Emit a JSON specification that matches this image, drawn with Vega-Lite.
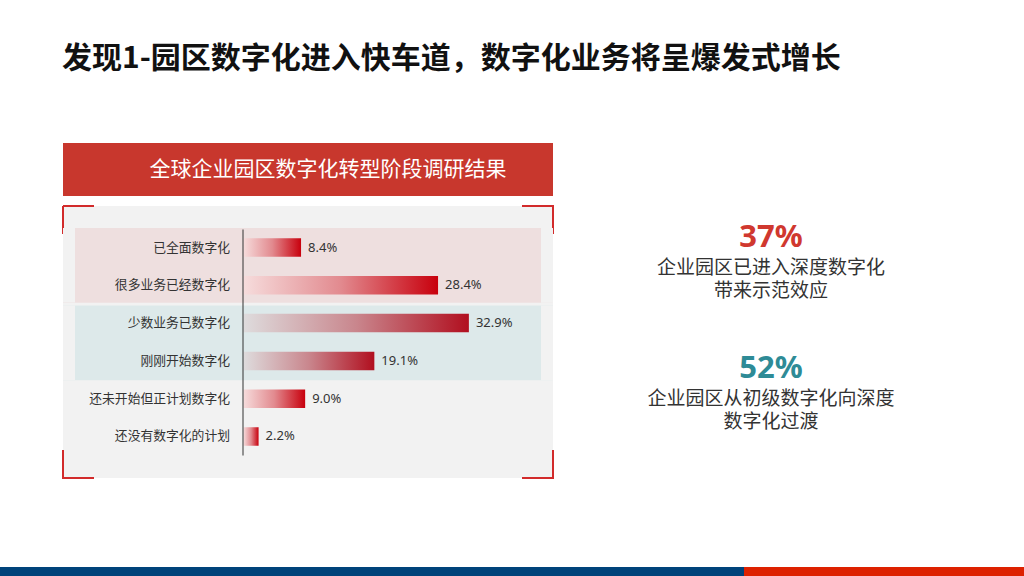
{
  "$schema": "https://vega.github.io/schema/vega-lite/v6.json",
  "background": "white",
  "padding": {"top": 44, "left": 0, "right": 0, "bottom": 0},
  "title": {
    "text": "发现1-园区数字化进入快车道，数字化业务将呈爆发式增长",
    "anchor": "start",
    "dx": 62,
    "fontSize": 30,
    "fontWeight": "bold",
    "font": "Noto Sans CJK SC",
    "color": "#111111",
    "offset": 69
  },
  "datasets": {
    "rows": [
      {"cat": "已全面数字化", "value": 0.084, "grp": "a"},
      {"cat": "很多业务已经数字化", "value": 0.284, "grp": "a"},
      {"cat": "少数业务已数字化", "value": 0.329, "grp": "b"},
      {"cat": "刚刚开始数字化", "value": 0.191, "grp": "b"},
      {"cat": "还未开始但正计划数字化", "value": 0.09, "grp": "c"},
      {"cat": "还没有数字化的计划", "value": 0.022, "grp": "c"}
    ],
    "bands": [{"grp": "a"}, {"grp": "b"}],
    "notes": [
      {"block": "a", "pct": "37%", "desc": "企业园区已进入深度数字化\n带来示范效应"},
      {"block": "b", "pct": "52%", "desc": "企业园区从初级数字化向深度\n数字化过渡"}
    ],
    "banner": [{"t": "全球企业园区数字化转型阶段调研结果"}]
  },
  "config": {"view": {"stroke": null}, "font": "Noto Sans CJK SC"},
  "spacing": 88,
  "vconcat": [
    {
      "spacing": 0,
      "hconcat": [
        {"width": 62, "height": 1, "data": {"values": []}, "mark": "rect"},
        {
          "spacing": 9,
          "vconcat": [
            {
              "width": 490,
              "height": 53,
              "view": {"fill": "#c8372d", "stroke": null},
              "data": {"name": "banner"},
              "mark": {"type": "text", "color": "#ffffff", "fontSize": 21, "dx": 20, "font": "Noto Sans CJK SC", "baseline": "middle"},
              "encoding": {"text": {"field": "t", "type": "nominal"}}
            },
            {
              "width": 490,
              "height": 272,
              "view": {"fill": "#f2f2f2", "stroke": "#d22b2b", "strokeWidth": 2, "strokeDash": [31, 428, 59, 216, 59, 428, 59, 216, 28, 0]},
              "resolve": {"scale": {"y": "independent"}, "axis": {"y": "independent"}},
              "layer": [
                {
                  "data": {"name": "bands"},
                  "mark": {"type": "rect", "clip": true, "stroke": "#f2f2f2", "strokeWidth": 24, "strokeDash": [0, 490, 75, 490, 75, 0]},
                  "encoding": {
                    "y": {"field": "grp", "type": "nominal", "scale": {"domain": ["a", "b", "c"], "paddingInner": 0.035, "paddingOuter": 0.2746, "align": 0.52}, "axis": null},
                    "fill": {"field": "grp", "type": "nominal", "scale": {"domain": ["a", "b"], "range": ["#eedfdf", "#dde9ea"]}, "legend": null}
                  }
                },
                {
                  "data": {"name": "rows"},
                  "encoding": {
                    "y": {
                      "field": "cat", "type": "nominal", "sort": null,
                      "scale": {"domain": ["已全面数字化", "很多业务已经数字化", "少数业务已数字化", "刚刚开始数字化", "还未开始但正计划数字化", "还没有数字化的计划"], "paddingInner": 0, "paddingOuter": 0.598},
                      "axis": {"title": null, "orient": "left", "offset": -179.5, "zindex": 1, "ticks": false, "grid": false, "domainColor": "#333333", "domainWidth": 1, "domainDash": [0, 23, 226, 30], "labelPadding": 13, "labelFontSize": 12.8, "labelFont": "Noto Sans CJK SC", "labelColor": "#333333", "labelLimit": 300}
                    },
                    "x": {"field": "value", "type": "quantitative", "scale": {"domain": [-0.2635, 0.4518], "nice": false, "zero": false}, "axis": null}
                  },
                  "layer": [
                    {
                      "transform": [{"filter": {"field": "grp", "oneOf": ["a", "c"]}}],
                      "mark": {"type": "bar", "height": {"band": 0.49}, "fill": {"gradient": "linear", "x1": 0, "y1": 0, "x2": 1, "y2": 0, "stops": [{"offset": 0, "color": "#f6dcdc"}, {"offset": 0.5, "color": "#e28a8f"}, {"offset": 1, "color": "#c8000d"}]}}
                    },
                    {
                      "transform": [{"filter": {"field": "grp", "equal": "b"}}],
                      "mark": {"type": "bar", "height": {"band": 0.49}, "fill": {"gradient": "linear", "x1": 0, "y1": 0, "x2": 1, "y2": 0, "stops": [{"offset": 0, "color": "#dedcdd"}, {"offset": 0.5, "color": "#c9868d"}, {"offset": 1, "color": "#b10f1f"}]}}
                    },
                    {
                      "mark": {"type": "text", "align": "left", "baseline": "middle", "dx": 7, "fontSize": 13, "font": "Noto Sans", "color": "#333333"},
                      "encoding": {"text": {"field": "value", "type": "quantitative", "format": ".1%"}}
                    }
                  ]
                }
              ]
            }
          ]
        },
        {
          "width": 434,
          "height": 334,
          "data": {"name": "notes"},
          "encoding": {
            "y": {"field": "block", "type": "nominal", "scale": {"type": "point", "padding": 0.7748, "align": 0.586}, "axis": null},
            "color": {"field": "block", "type": "nominal", "scale": {"domain": ["a", "b"], "range": ["#d0382f", "#2e8b96"]}, "legend": null}
          },
          "layer": [
            {
              "mark": {"type": "text", "fontSize": 31, "fontWeight": "bold", "font": "Noto Sans", "dy": -24, "baseline": "middle"},
              "encoding": {"text": {"field": "pct", "type": "nominal"}}
            },
            {
              "mark": {"type": "text", "fontSize": 19, "font": "Noto Sans CJK SC", "lineBreak": "\n", "lineHeight": 23, "dy": 6.5, "baseline": "middle"},
              "encoding": {"text": {"field": "desc", "type": "nominal"}, "color": {"value": "#333333"}}
            }
          ]
        }
      ]
    },
    {
      "spacing": 0,
      "hconcat": [
        {"width": 744, "height": 10, "view": {"fill": "#00437a", "stroke": null}, "data": {"values": []}, "mark": "rect"},
        {"width": 280, "height": 10, "view": {"fill": "#dd2100", "stroke": null}, "data": {"values": []}, "mark": "rect"}
      ]
    }
  ]
}
